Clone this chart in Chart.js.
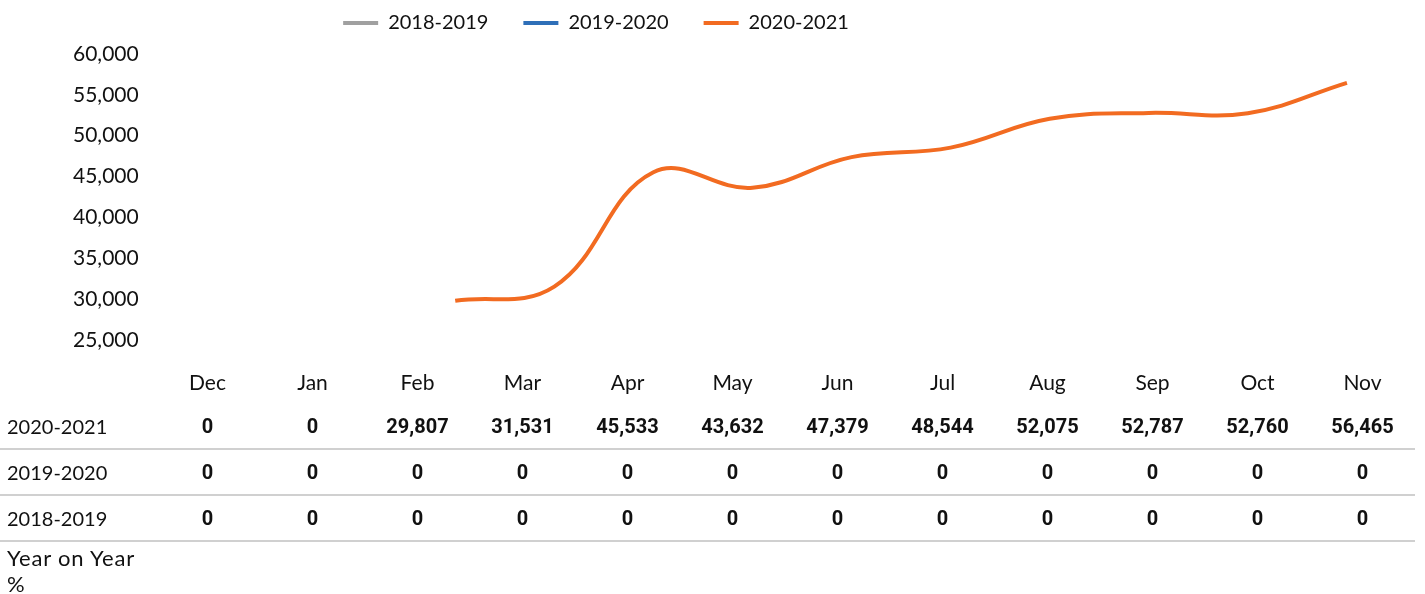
<!DOCTYPE html>
<html>
<head>
<meta charset="utf-8">
<script src="https://cdn.jsdelivr.net/npm/chart.js@4"></script>
<style>
  body { margin: 0; background: #fff; width: 1425px; height: 594px; position: relative; overflow: hidden; }
  #line-chart { position: absolute; left: 0; top: 0; }
  #data-table {
    position: absolute; left: 0; top: 358px; width: 1415px;
    border-collapse: separate; border-spacing: 0; table-layout: fixed;
    font-family: Lato, sans-serif; font-size: 20px; color: #111;
  }
  #data-table td { padding: 0; text-align: center; vertical-align: middle; white-space: nowrap; }
  #data-table td.label { text-align: left; padding-left: 7px; }
  #data-table tr.head td { height: 46px; font-size: 21px; }
  #data-table tr.row td { height: 44px; border-bottom: 2px solid #d0d0d0; }
  #data-table td.num { font-family: Roboto, sans-serif; font-weight: bold; }
  #data-table tr.yoy td { vertical-align: top; line-height: 26px; padding-top: 3px; font-size: 22px; letter-spacing: 0.8px; }
</style>
</head>
<body>
<canvas id="line-chart" width="1425" height="360"></canvas>
<table id="data-table"></table>
<script>
const months = ["Dec", "Jan", "Feb", "Mar", "Apr", "May", "Jun", "Jul", "Aug", "Sep", "Oct", "Nov"];
const series2018 = [0, 0, 0, 0, 0, 0, 0, 0, 0, 0, 0, 0];
const series2019 = [0, 0, 0, 0, 0, 0, 0, 0, 0, 0, 0, 0];
const series2020 = [0, 0, 29807, 31531, 45533, 43632, 47379, 48544, 52075, 52787, 52760, 56465];
const yMin = 25000;
const yMax = 60000;
const yStep = 5000;

const seriesNames = ["2018-2019", "2019-2020", "2020-2021"];
const seriesValues = [series2018, series2019, series2020];
const seriesColors = ["#A0A0A0", "#2E6FB8", "#F26B21"];

// zeros are "no data" in the chart, but shown as 0 in the table
const toPoints = (arr) => arr.map((v) => (v === 0 ? null : v));

// legend sits higher and a bit left of centre, like the original
const legendTweaks = {
  id: "legendTweaks",
  beforeInit(chart) {
    const fit = chart.legend.fit;
    chart.legend.fit = function () {
      fit.call(this);
      this.height = 54;
    };
  },
  afterLayout(chart) {
    const l = chart.legend;
    const d = 596 - (l.left + l.right) / 2;
    l.left += d;
    l.right += d;
    l.top -= 22;
    l.bottom -= 22;
  },
};

const ctx = document.getElementById("line-chart").getContext("2d");
new Chart(ctx, {
  type: "line",
  data: {
    labels: months,
    datasets: seriesNames.map((name, i) => ({
      label: name,
      data: toPoints(seriesValues[i]),
      borderColor: seriesColors[i],
      backgroundColor: seriesColors[i],
      borderWidth: 4,
      pointRadius: 0,
      tension: 0.4,
      fill: false,
    })),
  },
  options: {
    responsive: false,
    animation: false,
    layout: { padding: { top: 0, right: 28.5, bottom: 20, left: 73 } },
    plugins: {
      tooltip: { enabled: false },
      legend: {
        position: "top",
        labels: {
          boxWidth: 35,
          boxHeight: 4,
          padding: 35,
          color: "#111",
          font: { family: "Lato", size: 20 },
          generateLabels: (chart) =>
            Chart.defaults.plugins.legend.labels
              .generateLabels(chart)
              .map((item) => ({ ...item, lineWidth: 0, fillStyle: item.strokeStyle })),
        },
      },
    },
    scales: {
      x: {
        display: false,
        offset: true,
      },
      y: {
        min: yMin,
        max: yMax,
        grid: { display: false },
        border: { display: false },
        afterFit: (scale) => {
          scale.width = 134.5;
        },
        ticks: {
          stepSize: yStep,
          padding: 0,
          crossAlign: "far",
          color: "#111",
          font: { family: "Lato", size: 21 },
          callback: (v) => v.toLocaleString("en-US"),
        },
      },
    },
  },
  plugins: [legendTweaks],
});

// data table under the chart
function buildTable() {
  const table = document.getElementById("data-table");
  let html = '<colgroup><col style="width:155px">';
  months.forEach(() => (html += '<col style="width:105px">'));
  html += "</colgroup>";
  html += '<tr class="head"><td class="label"></td>';
  months.forEach((m) => (html += "<td>" + m + "</td>"));
  html += "</tr>";
  for (let i = seriesNames.length - 1; i >= 0; i--) {
    html += '<tr class="row"><td class="label">' + seriesNames[i] + "</td>";
    seriesValues[i].forEach((v) => (html += '<td class="num">' + v.toLocaleString("en-US") + "</td>"));
    html += "</tr>";
  }
  html += '<tr class="yoy"><td class="label">Year on Year<br>%</td>';
  months.forEach(() => (html += "<td></td>"));
  html += "</tr>";
  table.innerHTML = html;
}
buildTable();
</script>
</body>
</html>
